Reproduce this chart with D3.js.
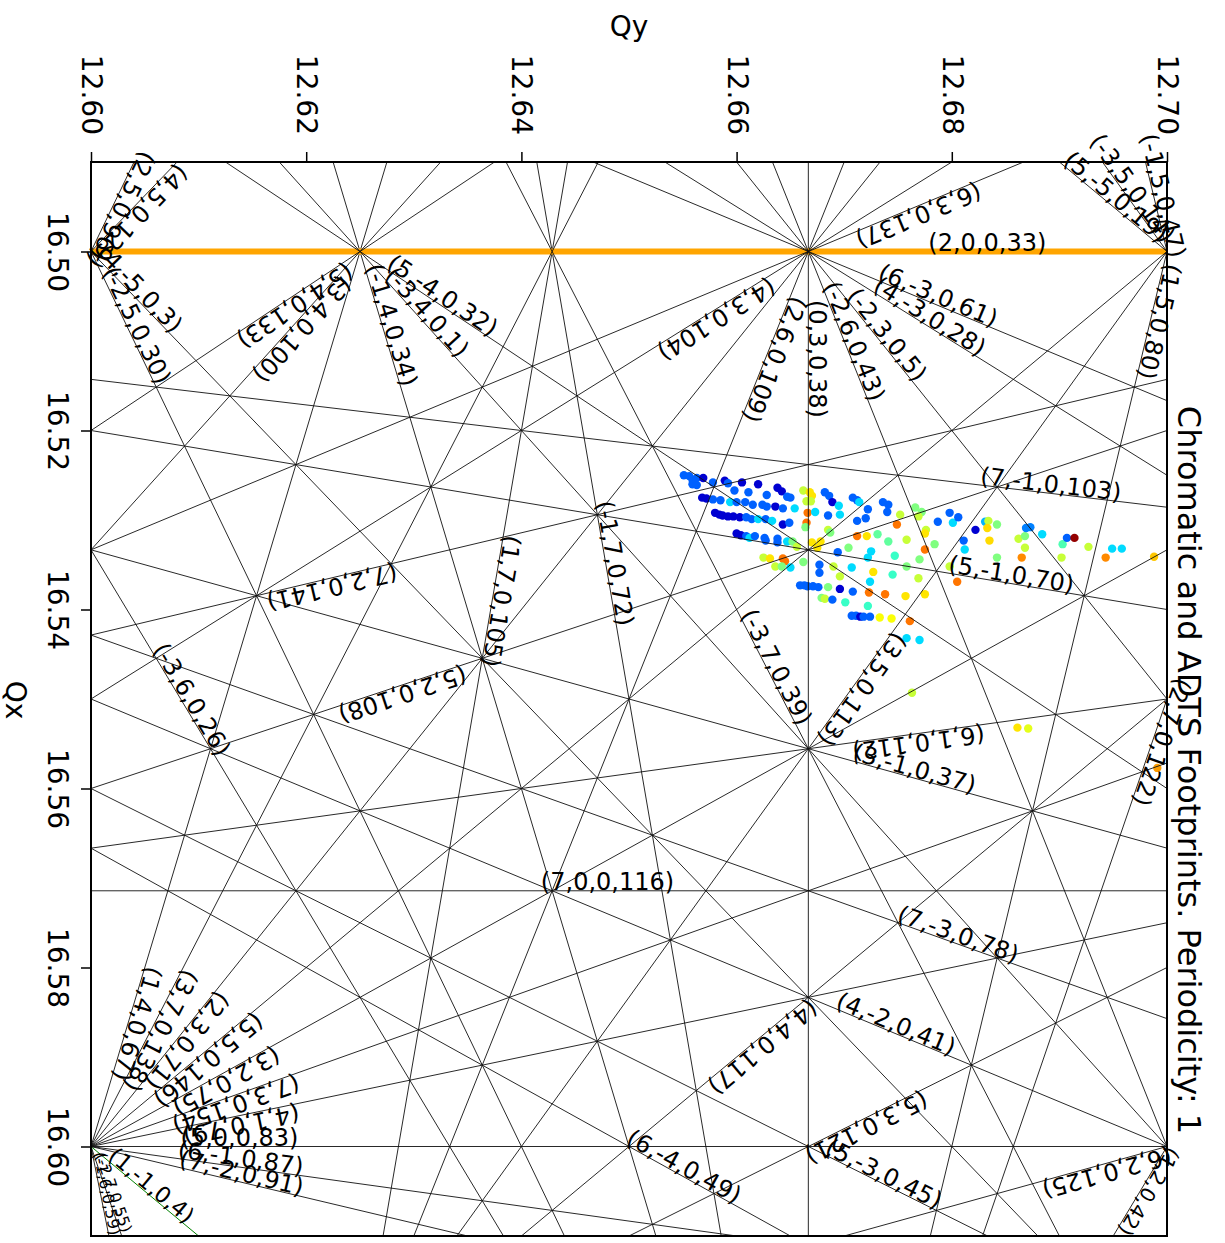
<!DOCTYPE html>
<html><head><meta charset="utf-8">
<script src="https://cdn.jsdelivr.net/npm/d3@7"></script>
<style>body{margin:0;background:#fff}svg{display:block}</style>
</head><body>
<svg id="c" width="1225" height="1243"></svg>
<script>
// ---------------- data ----------------
const qyTicks = [12.60, 12.62, 12.64, 12.66, 12.68, 12.70];
const qxTicks = [16.50, 16.52, 16.54, 16.56, 16.58, 16.60];
const qyDomain = [12.60, 12.70];
const qxDomain = [16.49, 16.61];
const titleText = "Chromatic and ADTS Footprints. Periodicity: 1";

// resonance lines a*Qx + b*Qy = p  (Qs coefficient 0)
const resA = [0, 1, 1, 1,-1, 1,-1,-1, 1,-1, 2, 2,-2, 2,-2, 2,-2, 2,-2, 3, 3, 3,-3, 3,-3,-3, 3,-3,
              4, 4, 4, 4, 4, 4, 4, 5, 5, 5, 5, 5, 5, 5, 5, 5, 6, 6, 6, 6, 6, 6, 7, 7, 7, 7, 7, 7];
const resB = [3,-1, 2, 4, 4, 5, 5, 6, 7, 7, 0, 3, 3, 5, 5, 6, 6, 7, 7,-1, 2, 4, 4, 5, 5, 6, 7, 7,
              1,-2, 3,-3, 4, 5,-5, 0,-1, 2, 3,-3, 4,-4, 5,-5, 1,-1, 2, 3,-3,-4, 0,-1, 2,-2, 3,-3];
const resP = [38, 4,42,67,34,80,47,59,105,72,33,71, 5,96,30,109,43,122,55,37,75,100, 1,113,14,26,138,39,
              79,41,104,28,117,129, 3,83,70,108,121,45,133,32,146,19,112,87,125,137,61,49,116,103,141,91,154,78];
// where each label sits along its line (Qx for steep lines, Qy otherwise)
const resLabelAt = [16.512,12.6051,16.6046,16.5860,16.5085,16.5076,16.494,16.6054,16.5389,16.535,
                    12.6833,12.6083,12.6733,16.4945,16.5087,16.5117,16.5104,16.5545,16.6054,
                    12.6763,12.6122,12.619,12.6306,12.671,12.6961,16.5506,16.5866,16.5469,
                    12.6138,12.6745,12.6577,12.6775,12.6619,12.6037,12.6039,
                    12.6138,12.6854,12.6287,12.6717,12.6733,12.6185,12.6322,12.6104,12.6947,
                    12.6768,12.6138,12.6942,12.6766,12.6784,12.6547,
                    12.648,12.6891,12.6222,12.6138,12.6132,12.6803];

// footprint particles
const fpQy = [
12.6551,12.6556,12.6559,12.6563,12.6569,12.6559,12.6563,12.6578,12.6589,12.6592,12.6598,12.6605,12.6611,12.6620,12.6628,12.6638,12.6642,12.6647,12.6650,
12.6568,12.6572,12.6578,12.6585,12.6594,12.6600,12.6608,12.6615,12.6624,12.6628,12.6636,12.6643,12.6654,
12.6580,12.6584,12.6587,12.6592,12.6597,12.6603,12.6609,12.6614,12.6620,12.6627,12.6633,12.6643,12.6649,
12.6600,12.6604,12.6609,12.6612,12.6617,12.6626,12.6627,12.6638,12.6638,12.6647,
12.6662,12.6668,12.6670,12.6665,12.6669,12.6666,12.6665,12.6664,
12.6682,12.6686,12.6689,12.6695,12.6673,12.6685,12.6696,12.6708,12.6712,12.6714,12.6722,12.6712,12.6720,12.6736,12.6741,12.6740,
12.6752,12.6749,12.6766,12.6772,12.6769,12.6776,12.6775,
12.6685,12.6687,12.6678,12.6670,12.6652,12.6656,12.6675,12.6712,12.6721,12.6731,12.6741,12.6758,12.6775,12.6784,
12.6694,12.6704,12.6725,12.6722,12.6747,12.6770,12.6787,12.6798,12.6801,12.6806,
12.6625,12.6631,12.6636,12.6643,12.6645,12.6642,12.6650,12.6662,12.6677,12.6677,12.6690,12.6696,12.6707,12.6727,12.6724,12.6745,12.6758,12.6769,
12.6659,12.6663,12.6666,12.6671,12.6676,12.6685,12.6696,12.6708,12.6723,12.6738,12.6757,12.6775,12.6679,12.6682,12.6689,12.6701,12.6722,
12.6707,12.6711,12.6715,12.6718,12.6724,12.6733,12.6744,12.6761,12.6758,12.6770,
12.6805,12.6798,12.6811,12.6812,12.6822,12.6831,12.6834,12.6835,12.6842,12.6833,12.6842,
12.6862,12.6868,12.6868,12.6865,12.6869,12.6873,12.6884,12.6902,12.6903,12.6907,12.6914,12.6927,12.6943,12.6949,12.6958,12.6988,
12.6763,12.6861,12.6871,12.6991];
const fpQx = [
16.5250,16.5251,16.5255,16.5253,16.5253,16.5260,16.5261,16.5258,16.5256,16.5259,16.5267,16.5258,16.5269,16.5260,16.5272,16.5264,16.5268,16.5274,16.5275,
16.5275,16.5276,16.5277,16.5278,16.5280,16.5280,16.5280,16.5283,16.5283,16.5285,16.5285,16.5287,16.5287,
16.5292,16.5294,16.5295,16.5296,16.5296,16.5297,16.5297,16.5299,16.5299,16.5299,16.5301,16.5305,16.5303,
16.5315,16.5317,16.5318,16.5320,16.5318,16.5320,16.5323,16.5321,16.5325,16.5324,
16.5267,16.5269,16.5273,16.5279,16.5279,16.5292,16.5303,16.5308,
16.5269,16.5273,16.5280,16.5284,16.5291,16.5295,16.5294,16.5275,16.5278,16.5280,16.5288,16.5301,16.5298,16.5280,16.5283,16.5291,
16.5294,16.5305,16.5286,16.5291,16.5296,16.5311,16.5315,
16.5311,16.5314,16.5324,16.5325,16.5324,16.5330,16.5331,16.5318,16.5318,16.5316,16.5324,16.5322,16.5333,16.5327,
16.5336,16.5331,16.5335,16.5342,16.5340,16.5344,16.5302,16.5292,16.5303,16.5297,
16.5342,16.5343,16.5352,16.5343,16.5346,16.5352,16.5353,16.5347,16.5350,16.5359,16.5352,16.5363,16.5353,16.5358,16.5369,16.5361,16.5352,16.5365,
16.5373,16.5373,16.5374,16.5374,16.5375,16.5375,16.5377,16.5380,16.5381,16.5383,16.5385,16.5383,16.5387,16.5388,16.5389,16.5392,16.5396,
16.5407,16.5407,16.5408,16.5408,16.5408,16.5409,16.5410,16.5413,16.5432,16.5434,
16.5369,16.5352,16.5323,16.5333,16.5311,16.5302,16.5301,16.5323,16.5305,16.5309,16.5342,
16.5321,16.5318,16.5331,16.5342,16.5309,16.5308,16.5316,16.5342,16.5327,16.5320,16.5320,16.5330,16.5342,16.5332,16.5332,16.5341,
16.5493,16.5532,16.5533,16.5577];
const fpVal = [
.22,.22,.22,.22,.08,.22,.22,.22,.08,.22,.22,.08,.22,.08,.22,.08,.08,.22,.22,
.08,.08,.22,.22,.34,.22,.22,.22,.22,.22,.08,.22,.34,
.08,.08,.08,.08,.08,.08,.22,.22,.34,.22,.34,.08,.22,
.08,.08,.22,.34,.22,.22,.22,.22,.22,.34,
.57,.65,.65,.57,.57,.76,.76,.5,
.22,.22,.08,.34,.34,.22,.34,.22,.22,.34,.22,.22,.22,.22,.22,.22,
.57,.76,.5,.5,.57,.57,.65,
.57,.5,.65,.65,.5,.57,.65,.76,.65,.47,.47,.57,.76,.5,
.22,.5,.34,.34,.43,.5,.22,.22,.34,.22,
.57,.65,.57,.76,.76,.5,.34,.5,.22,.22,.57,.57,.34,.65,.34,.43,.5,.57,
.22,.22,.22,.22,.22,.5,.08,.22,.76,.76,.65,.65,.5,.57,.22,.43,.43,
.22,.22,.08,.22,.22,.62,.62,.76,.34,.34,
.76,.57,.22,.34,.08,.3,.57,.66,.5,.66,.5,
.57,.5,.57,.74,.25,.25,.34,.57,.45,.22,.98,.57,.74,.34,.34,.68,
.57,.65,.6,.72];

// ---------------- drawing ----------------
const svg = d3.select("#c");
const W = 1225, H = 1243;
const plot = {left: 91, right: 1167, top: 162, bottom: 1236};
const x = d3.scaleLinear().domain(qyDomain).range([plot.left, plot.right]);
const y = d3.scaleLinear().domain(qxDomain).range([plot.top, plot.bottom]);
const jet = d3.scaleLinear().domain([0, 0.125, 0.375, 0.625, 0.875, 1])
  .range(["#000080", "#0000ff", "#00ffff", "#ffff00", "#ff0000", "#800000"]).clamp(true);

svg.append("rect").attr("width", W).attr("height", H).attr("fill", "#fff");
svg.append("defs").append("clipPath").attr("id", "plotclip").append("rect")
  .attr("x", plot.left).attr("y", plot.top)
  .attr("width", plot.right - plot.left).attr("height", plot.bottom - plot.top);

// footprint points (drawn below the resonance lines)
svg.append("g").attr("clip-path", "url(#plotclip)")
  .selectAll("circle").data(d3.range(fpQy.length)).join("circle")
  .attr("cx", i => x(fpQy[i])).attr("cy", i => y(fpQx[i]))
  .attr("r", 4.2).attr("fill", i => jet(fpVal[i]));

// resonance lines
const res = d3.range(resA.length).map(i => ({a: resA[i], b: resB[i], p: resP[i], at: resLabelAt[i]}));
const line = d3.line().x(d => x(d[0])).y(d => y(d[1]));
function segment(r) {
  if (r.b === 0) return [[12.5, r.p / r.a], [12.8, r.p / r.a]];
  if (r.a === 0) return [[r.p / r.b, 16.4], [r.p / r.b, 16.7]];
  return [[12.5, (r.p - r.b * 12.5) / r.a], [12.8, (r.p - r.b * 12.8) / r.a]];
}
function lineStyle(r) {
  if (r.a === 2 && r.b === 0) return {c: "#ffa500", w: 6};
  if (r.a === 1 && r.b === -1) return {c: "#008000", w: 1};
  return {c: "#111", w: 0.9};
}
const gL = svg.append("g").attr("clip-path", "url(#plotclip)");
res.forEach(r => {
  const s = lineStyle(r);
  gL.append("path").attr("d", line(segment(r))).attr("fill", "none")
    .attr("stroke", s.c).attr("stroke-width", s.w);
});

// labels
const kx = (x(12.7) - x(12.6)) / 0.1;
const ky = (y(16.61) - y(16.49)) / 0.12;
const gT = svg.append("g");
const labelSize = 24;
res.forEach(r => {
  let ang;
  if (r.b === 0) ang = 0;
  else if (r.a === 0) ang = 90;
  else {
    ang = Math.atan2(-r.b / r.a * ky, kx) * 180 / Math.PI;
    if (ang < 0) ang += 180;
  }
  const steep = r.a === 0 || Math.abs(r.b / r.a) > 1.8;
  let qx, qy;
  if (steep) { qx = r.at; qy = (r.p - r.a * qx) / r.b; }
  else { qy = r.at; qx = (r.p - r.b * qy) / r.a; }
  const px = x(qy), py = y(qx);
  const t = gT.append("text")
    .attr("transform", `translate(${px},${py}) rotate(${ang})`)
    .attr("dy", -1)
    .attr("text-anchor", "middle")
    .attr("font-family", "DejaVu Sans")
    .attr("font-size", labelSize)
    .attr("fill", "#000")
    .text(`(${r.a},${r.b},0,${r.p})`);
  // keep the label inside the picture: shrink it if it would run past the bottom edge
  const rad = ang * Math.PI / 180;
  const L = t.node().getComputedTextLength();
  const extra = labelSize * 0.8 * Math.abs(Math.cos(rad));
  const reach = py + L / 2 * Math.abs(Math.sin(rad)) + extra;
  if (reach > H - 3) {
    const f = Math.max(0.6, (H - 3 - py - extra) / (L / 2 * Math.abs(Math.sin(rad))));
    t.attr("font-size", labelSize * f);
  }
});

// frame
svg.append("rect").attr("x", plot.left).attr("y", plot.top)
  .attr("width", plot.right - plot.left).attr("height", plot.bottom - plot.top)
  .attr("fill", "none").attr("stroke", "#000").attr("stroke-width", 2);

// top axis (Qy)
const gTop = svg.append("g").attr("transform", `translate(0,${plot.top})`)
  .call(d3.axisTop(x).tickValues(qyTicks).tickSize(10).tickFormat(d3.format(".2f")));
gTop.select(".domain").remove();
gTop.attr("font-family", "DejaVu Sans").attr("font-size", 28);
gTop.selectAll(".tick line").attr("stroke", "#000").attr("stroke-width", 1.5);
gTop.selectAll(".tick text").attr("y", 0).attr("dy", null).attr("fill", "#000")
  .attr("transform", "translate(0,-27) rotate(90)")
  .attr("text-anchor", "end").attr("dominant-baseline", "central");

// left axis (Qx)
const gLeft = svg.append("g").attr("transform", `translate(${plot.left},0)`)
  .call(d3.axisLeft(y).tickValues(qxTicks).tickSize(10).tickFormat(d3.format(".2f")));
gLeft.select(".domain").remove();
gLeft.attr("font-family", "DejaVu Sans").attr("font-size", 28);
gLeft.selectAll(".tick line").attr("stroke", "#000").attr("stroke-width", 1.5);
gLeft.selectAll(".tick text").attr("x", 0).attr("dy", null).attr("fill", "#000")
  .attr("transform", "translate(-43,0) rotate(90)")
  .attr("text-anchor", "middle");

// axis titles and chart title
svg.append("text").attr("x", 629).attr("y", 36).attr("text-anchor", "middle")
  .attr("font-family", "DejaVu Sans").attr("font-size", 28).text("Qy");
svg.append("text").attr("transform", "translate(6,700) rotate(90)").attr("text-anchor", "middle")
  .attr("font-family", "DejaVu Sans").attr("font-size", 28).text("Qx");
svg.append("text").attr("transform", "translate(1178,770) rotate(90)").attr("text-anchor", "middle")
  .attr("font-family", "DejaVu Sans").attr("font-size", 32).text(titleText);
</script>
</body></html>
